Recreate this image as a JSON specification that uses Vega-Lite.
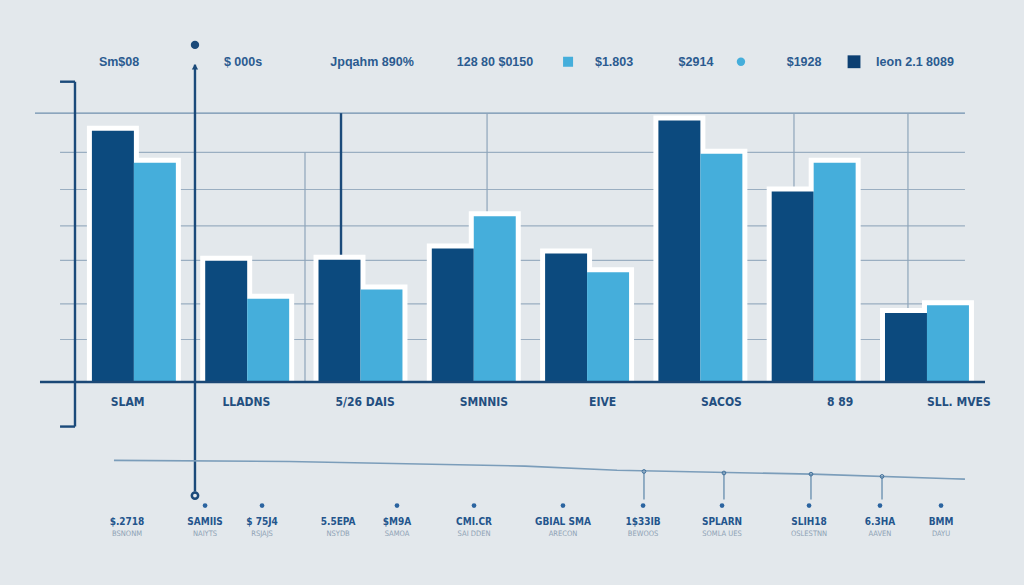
{
  "$schema": "https://vega.github.io/schema/vega-lite/v6.json",
  "width": 950,
  "height": 585,
  "autosize": {"type": "none"},
  "padding": {"left": 35, "right": 39, "top": 0, "bottom": 0},
  "background": "#e3e8ec",
  "config": {"view": {"stroke": null}},
  "datasets": {
    "bars": [
      {"cat": "SLAM", "s": "Ieon 2.1 8089", "v": 65.5},
      {"cat": "SLAM", "s": "$1.803", "v": 57.2},
      {"cat": "LLADNS", "s": "Ieon 2.1 8089", "v": 31.6},
      {"cat": "LLADNS", "s": "$1.803", "v": 21.7},
      {"cat": "5/26 DAIS", "s": "Ieon 2.1 8089", "v": 31.9},
      {"cat": "5/26 DAIS", "s": "$1.803", "v": 24.1},
      {"cat": "SMNNIS", "s": "Ieon 2.1 8089", "v": 34.8},
      {"cat": "SMNNIS", "s": "$1.803", "v": 43.2},
      {"cat": "EIVE", "s": "Ieon 2.1 8089", "v": 33.5},
      {"cat": "EIVE", "s": "$1.803", "v": 28.6},
      {"cat": "SACOS", "s": "Ieon 2.1 8089", "v": 68.2},
      {"cat": "SACOS", "s": "$1.803", "v": 59.5},
      {"cat": "8 89", "s": "Ieon 2.1 8089", "v": 49.7},
      {"cat": "8 89", "s": "$1.803", "v": 57.2},
      {"cat": "SLL. MVES", "s": "Ieon 2.1 8089", "v": 18.0},
      {"cat": "SLL. MVES", "s": "$1.803", "v": 20.0}
    ],
    "grid": [{"v": 59.9}, {"v": 50.2}, {"v": 40.7}, {"v": 31.7}, {"v": 20.4}, {"v": 11.1}],
    "thinv": [
      {"p": 1.509, "v": 59.9, "v2": 0},
      {"p": 3.116, "v": 70.1, "v2": 0},
      {"p": 5.825, "v": 70.1, "v2": 0},
      {"p": 6.831, "v": 70.1, "v2": 0}
    ],
    "deco": [
      {"p": 0.538, "p2": 0.538, "v": 82.7, "v2": -28.5},
      {"p": -0.521, "p2": -0.521, "v": 78.3, "v2": -11.6},
      {"p": -0.653, "p2": -0.521, "v": 78.3, "v2": 78.3},
      {"p": -0.653, "p2": -0.521, "v": -11.6, "v2": -11.6},
      {"p": 1.827, "p2": 1.827, "v": 70.1, "v2": 33.2}
    ],
    "trend": [
      {"p": -0.177, "v": -20.4},
      {"p": 1.368, "v": -20.7},
      {"p": 3.451, "v": -21.9},
      {"p": 4.263, "v": -23.0},
      {"p": 5.984, "v": -24.0},
      {"p": 7.22, "v": -25.2},
      {"p": 7.334, "v": -25.3}
    ],
    "ticks": [
      {"p": 4.501, "v": -23.3},
      {"p": 5.207, "v": -23.7},
      {"p": 5.975, "v": -24.0},
      {"p": 6.602, "v": -24.6}
    ],
    "top": [
      {"p": -0.132, "t": "Sm$08"},
      {"p": 0.962, "t": "$ 000s"},
      {"p": 2.101, "t": "Jpqahm 890%"},
      {"p": 3.186, "t": "128 80 $0150"},
      {"p": 4.237, "t": "$1.803"},
      {"p": 4.96, "t": "$2914"},
      {"p": 5.914, "t": "$1928"},
      {"p": 6.893, "t": "Ieon 2.1 8089"}
    ],
    "bottom": [
      {"p": -0.062, "t": "$.2718", "u": "BSNONM"},
      {"p": 0.627, "t": "SAMIIS", "u": "NAIYTS"},
      {"p": 1.13, "t": "$ 75J4", "u": "RSJAJS"},
      {"p": 1.801, "t": "5.5EPA", "u": "NSYDB"},
      {"p": 2.321, "t": "$M9A", "u": "SAMOA"},
      {"p": 3.001, "t": "CMI.CR", "u": "SAI DDEN"},
      {"p": 3.786, "t": "GBIAL SMA", "u": "ARECON"},
      {"p": 4.493, "t": "1$33IB", "u": "BEWOOS"},
      {"p": 5.19, "t": "SPLARN", "u": "SOMLA UES"},
      {"p": 5.958, "t": "SLIH18", "u": "OSLESTNN"},
      {"p": 6.584, "t": "6.3HA", "u": "AAVEN"},
      {"p": 7.123, "t": "BMM", "u": "DAYU"}
    ],
    "icons": [
      {"p": 0.627}, {"p": 1.13}, {"p": 2.321}, {"p": 3.001}, {"p": 3.786},
      {"p": 4.493}, {"p": 5.19}, {"p": 5.958}, {"p": 6.584}, {"p": 7.123}
    ]
  },
  "layer": [
    {
      "data": {"name": "grid"},
      "mark": {"type": "rule", "color": "#9aaec1", "strokeWidth": 1.2},
      "encoding": {
        "y": {"field": "v", "type": "quantitative", "scale": {"domain": [-52.9, 99.6], "nice": false, "zero": false}, "axis": null},
        "x": {"datum": -0.653, "type": "quantitative", "scale": {"domain": [-0.874, 7.511], "nice": false, "zero": false}, "axis": null},
        "x2": {"datum": 7.334}
      }
    },
    {
      "data": {"values": [{"v": 70.1}]},
      "mark": {"type": "rule", "color": "#6f8fae", "strokeWidth": 1.3},
      "encoding": {
        "y": {"field": "v", "type": "quantitative", "scale": {"domain": [-52.9, 99.6], "nice": false, "zero": false}, "axis": null},
        "x": {"datum": -0.874, "type": "quantitative", "scale": {"domain": [-0.874, 7.511], "nice": false, "zero": false}, "axis": null},
        "x2": {"datum": 7.334}
      }
    },
    {
      "data": {"name": "thinv"},
      "mark": {"type": "rule", "color": "#8ea5ba", "strokeWidth": 1.2},
      "encoding": {
        "x": {"field": "p", "type": "quantitative", "scale": {"domain": [-0.874, 7.511], "nice": false, "zero": false}, "axis": null},
        "y": {"field": "v", "type": "quantitative", "scale": {"domain": [-52.9, 99.6], "nice": false, "zero": false}, "axis": null},
        "y2": {"field": "v2"}
      }
    },
    {
      "data": {"name": "bars"},
      "mark": {"type": "bar", "color": "#ffffff", "stroke": "#ffffff", "strokeWidth": 10, "strokeJoin": "miter", "y2Offset": -5},
      "encoding": {
        "x": {"field": "cat", "type": "nominal", "sort": null, "scale": {"paddingInner": 0.259, "paddingOuter": 0.322, "align": 0.78}, "axis": null},
        "xOffset": {"field": "s", "type": "nominal", "sort": null, "scale": {"paddingInner": 0, "paddingOuter": 0}},
        "y": {"field": "v", "type": "quantitative", "scale": {"domain": [-52.9, 99.6], "nice": false, "zero": false}, "axis": null},
        "y2": {"datum": 0}
      }
    },
    {
      "data": {"name": "bars"},
      "mark": {"type": "bar"},
      "encoding": {
        "x": {"field": "cat", "type": "nominal", "sort": null, "scale": {"paddingInner": 0.259, "paddingOuter": 0.322, "align": 0.78}, "axis": null},
        "xOffset": {"field": "s", "type": "nominal", "sort": null, "scale": {"paddingInner": 0, "paddingOuter": 0}},
        "y": {"field": "v", "type": "quantitative", "scale": {"domain": [-52.9, 99.6], "nice": false, "zero": false}, "axis": null},
        "y2": {"datum": 0},
        "color": {"field": "s", "type": "nominal", "sort": null, "scale": {"domain": ["Ieon 2.1 8089", "$1.803"], "range": ["#0c4a7e", "#45aedb"]}, "legend": null}
      }
    },
    {
      "data": {"values": [{"v": 0}]},
      "mark": {"type": "rule", "color": "#1b4876", "strokeWidth": 2.5},
      "encoding": {
        "y": {"field": "v", "type": "quantitative", "scale": {"domain": [-52.9, 99.6], "nice": false, "zero": false}, "axis": null},
        "x": {"datum": -0.83, "type": "quantitative", "scale": {"domain": [-0.874, 7.511], "nice": false, "zero": false}, "axis": null},
        "x2": {"datum": 7.511}
      }
    },
    {
      "data": {"name": "deco"},
      "mark": {"type": "rule", "color": "#1b4a7a", "strokeWidth": 2.4},
      "encoding": {
        "x": {"field": "p", "type": "quantitative", "scale": {"domain": [-0.874, 7.511], "nice": false, "zero": false}, "axis": null},
        "x2": {"field": "p2"},
        "y": {"field": "v", "type": "quantitative", "scale": {"domain": [-52.9, 99.6], "nice": false, "zero": false}, "axis": null},
        "y2": {"field": "v2"}
      }
    },
    {
      "data": {"values": [{"p": 0.538, "v": 87.9}]},
      "mark": {"type": "point", "shape": "circle", "filled": true, "size": 70, "color": "#1b4a7a", "opacity": 1},
      "encoding": {
        "x": {"field": "p", "type": "quantitative", "scale": {"domain": [-0.874, 7.511], "nice": false, "zero": false}, "axis": null},
        "y": {"field": "v", "type": "quantitative", "scale": {"domain": [-52.9, 99.6], "nice": false, "zero": false}, "axis": null}
      }
    },
    {
      "data": {"values": [{"p": 0.538, "v": 82.2}]},
      "mark": {"type": "point", "shape": "triangle-up", "filled": true, "size": 40, "color": "#1b4a7a", "opacity": 1},
      "encoding": {
        "x": {"field": "p", "type": "quantitative", "scale": {"domain": [-0.874, 7.511], "nice": false, "zero": false}, "axis": null},
        "y": {"field": "v", "type": "quantitative", "scale": {"domain": [-52.9, 99.6], "nice": false, "zero": false}, "axis": null}
      }
    },
    {
      "data": {"values": [{"p": 0.538, "v": -29.6}]},
      "mark": {"type": "point", "shape": "circle", "filled": false, "size": 40, "strokeWidth": 2.5, "color": "#1b4a7a", "opacity": 1},
      "encoding": {
        "x": {"field": "p", "type": "quantitative", "scale": {"domain": [-0.874, 7.511], "nice": false, "zero": false}, "axis": null},
        "y": {"field": "v", "type": "quantitative", "scale": {"domain": [-52.9, 99.6], "nice": false, "zero": false}, "axis": null}
      }
    },
    {
      "data": {"name": "trend"},
      "mark": {"type": "line", "color": "#7b9dba", "strokeWidth": 1.6},
      "encoding": {
        "x": {"field": "p", "type": "quantitative", "scale": {"domain": [-0.874, 7.511], "nice": false, "zero": false}, "axis": null},
        "y": {"field": "v", "type": "quantitative", "scale": {"domain": [-52.9, 99.6], "nice": false, "zero": false}, "axis": null}
      }
    },
    {
      "data": {"name": "ticks"},
      "mark": {"type": "rule", "color": "#5a84a8", "strokeWidth": 1.2},
      "encoding": {
        "x": {"field": "p", "type": "quantitative", "scale": {"domain": [-0.874, 7.511], "nice": false, "zero": false}, "axis": null},
        "y": {"field": "v", "type": "quantitative", "scale": {"domain": [-52.9, 99.6], "nice": false, "zero": false}, "axis": null},
        "y2": {"datum": -30.6}
      }
    },
    {
      "data": {"name": "ticks"},
      "mark": {"type": "point", "shape": "circle", "filled": false, "size": 14, "strokeWidth": 1, "color": "#3f6f9a", "opacity": 1},
      "encoding": {
        "x": {"field": "p", "type": "quantitative", "scale": {"domain": [-0.874, 7.511], "nice": false, "zero": false}, "axis": null},
        "y": {"field": "v", "type": "quantitative", "scale": {"domain": [-52.9, 99.6], "nice": false, "zero": false}, "axis": null}
      }
    },
    {
      "data": {"name": "icons"},
      "mark": {"type": "point", "shape": "circle", "filled": true, "size": 22, "color": "#2b64a0", "opacity": 1},
      "encoding": {
        "x": {"field": "p", "type": "quantitative", "scale": {"domain": [-0.874, 7.511], "nice": false, "zero": false}, "axis": null},
        "y": {"datum": -32.2, "type": "quantitative", "scale": {"domain": [-52.9, 99.6], "nice": false, "zero": false}, "axis": null}
      }
    },
    {
      "data": {"name": "top"},
      "mark": {"type": "text", "font": "Liberation Sans", "fontWeight": "bold", "fontSize": 12.5, "color": "#2b5b90", "align": "center", "baseline": "middle"},
      "encoding": {
        "x": {"field": "p", "type": "quantitative", "scale": {"domain": [-0.874, 7.511], "nice": false, "zero": false}, "axis": null},
        "y": {"datum": 83.5, "type": "quantitative", "scale": {"domain": [-52.9, 99.6], "nice": false, "zero": false}, "axis": null},
        "text": {"field": "t"}
      }
    },
    {
      "data": {"values": [{"p": 3.831}]},
      "mark": {"type": "point", "shape": "square", "filled": true, "size": 100, "color": "#45aedb", "opacity": 1},
      "encoding": {
        "x": {"field": "p", "type": "quantitative", "scale": {"domain": [-0.874, 7.511], "nice": false, "zero": false}, "axis": null},
        "y": {"datum": 83.5, "type": "quantitative", "scale": {"domain": [-52.9, 99.6], "nice": false, "zero": false}, "axis": null}
      }
    },
    {
      "data": {"values": [{"p": 5.357}]},
      "mark": {"type": "point", "shape": "circle", "filled": true, "size": 70, "color": "#45aedb", "opacity": 1},
      "encoding": {
        "x": {"field": "p", "type": "quantitative", "scale": {"domain": [-0.874, 7.511], "nice": false, "zero": false}, "axis": null},
        "y": {"datum": 83.5, "type": "quantitative", "scale": {"domain": [-52.9, 99.6], "nice": false, "zero": false}, "axis": null}
      }
    },
    {
      "data": {"values": [{"p": 6.355}]},
      "mark": {"type": "point", "shape": "square", "filled": true, "size": 165, "color": "#0c3f72", "opacity": 1},
      "encoding": {
        "x": {"field": "p", "type": "quantitative", "scale": {"domain": [-0.874, 7.511], "nice": false, "zero": false}, "axis": null},
        "y": {"datum": 83.5, "type": "quantitative", "scale": {"domain": [-52.9, 99.6], "nice": false, "zero": false}, "axis": null}
      }
    },
    {
      "data": {"name": "bars"},
      "transform": [{"filter": "datum.s === '$1.803'"}],
      "mark": {"type": "text", "font": "'DejaVu Sans Condensed', 'Liberation Sans Narrow', sans-serif", "fontWeight": "bold", "fontSize": 12, "color": "#234f80", "align": "center", "baseline": "middle"},
      "encoding": {
        "x": {"field": "cat", "type": "nominal", "sort": null, "scale": {"paddingInner": 0.259, "paddingOuter": 0.322, "align": 0.78}, "axis": null},
        "y": {"datum": -5.3, "type": "quantitative", "scale": {"domain": [-52.9, 99.6], "nice": false, "zero": false}, "axis": null},
        "text": {"field": "cat"}
      }
    },
    {
      "data": {"name": "bottom"},
      "mark": {"type": "text", "font": "'DejaVu Sans Condensed', 'Liberation Sans Narrow', sans-serif", "fontWeight": "bold", "fontSize": 10, "color": "#23558c", "align": "center", "baseline": "middle"},
      "encoding": {
        "x": {"field": "p", "type": "quantitative", "scale": {"domain": [-0.874, 7.511], "nice": false, "zero": false}, "axis": null},
        "y": {"datum": -36.6, "type": "quantitative", "scale": {"domain": [-52.9, 99.6], "nice": false, "zero": false}, "axis": null},
        "text": {"field": "t"}
      }
    },
    {
      "data": {"name": "bottom"},
      "mark": {"type": "text", "font": "'DejaVu Sans Condensed', 'Liberation Sans Narrow', sans-serif", "fontSize": 7.5, "color": "#8ea2b5", "align": "center", "baseline": "middle"},
      "encoding": {
        "x": {"field": "p", "type": "quantitative", "scale": {"domain": [-0.874, 7.511], "nice": false, "zero": false}, "axis": null},
        "y": {"datum": -39.6, "type": "quantitative", "scale": {"domain": [-52.9, 99.6], "nice": false, "zero": false}, "axis": null},
        "text": {"field": "u"}
      }
    }
  ],
  "resolve": {"scale": {"x": "independent"}}
}
